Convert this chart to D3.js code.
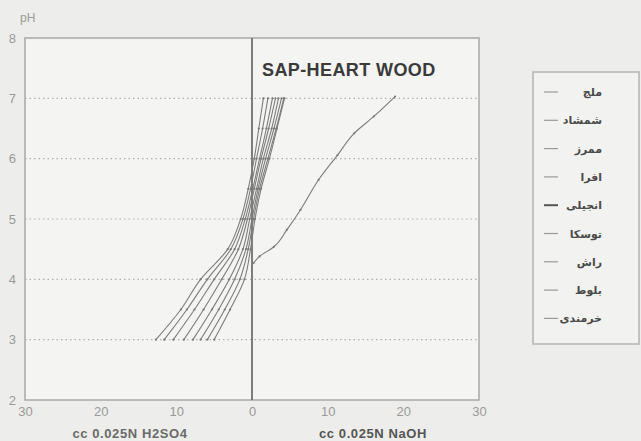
<!DOCTYPE html>
<html>
<head>
<meta charset="utf-8">
<script src="https://cdn.jsdelivr.net/npm/d3@7"></script>
<style>
  body { margin: 0; background: #ededeb; }
  svg { display: block; font-family: "Liberation Sans", Arial, sans-serif; }
</style>
</head>
<body>
<svg width="641" height="441"></svg>
<script>
(function () {
    'use strict';

    // species names (legend order)
    const species = ["ملج", "شمشاد", "ممرز", "افرا", "انجیلی", "توسکا", "راش", "بلوط", "خرمندی"];

    // pH levels read for the bundle of curves
    const phLevels = [3, 3.5, 4, 4.5, 5, 5.5, 6, 6.5, 7];

    // cc added (negative = H2SO4, positive = NaOH) at each pH level
    const mlj      = [-12.7, -9.4, -6.8, -3.2, -1.5, -0.5, 0.3, 0.9, 1.5];
    const shemshad = [-11.6, -8.6, -5.9, -2.8, -1.2, -0.2, 0.6, 1.4, 2.1];
    const mamraz   = [-10.4, -7.6, -5.0, -2.3, -0.9, 0.1, 1.0, 1.9, 2.7];
    const afra     = [-9.0, -6.4, -4.0, -1.8, -0.6, 0.3, 1.2, 2.2, 3.1];
    const anjili   = [-7.8, -5.3, -3.0, -1.2, -0.3, 0.6, 1.5, 2.6, 3.5];
    const tuska    = [-6.8, -4.4, -2.3, -0.8, 0.0, 0.8, 1.8, 2.9, 3.9];
    const rash     = [-5.9, -3.6, -1.6, -0.5, 0.2, 1.0, 2.1, 3.2, 4.2];
    const balut    = [-5.0, -2.9, -1.0, -0.2, 0.4, 1.2, 2.3, 3.3, 4.3];

    // persimmon curve, NaOH side only
    const khormandiMl = [0.2, 1.0, 2.9, 4.6, 6.4, 8.8, 11.3, 13.5, 16.1, 18.9];
    const khormandiPh = [4.27, 4.38, 4.54, 4.82, 5.15, 5.65, 6.06, 6.42, 6.7, 7.03];

    const xTicks = [-30, -20, -10, 0, 10, 20, 30];
    const yTicks = [2, 3, 4, 5, 6, 7, 8];
    const gridTicks = [3, 4, 5, 6, 7];

    const bundle = [mlj, shemshad, mamraz, afra, anjili, tuska, rash, balut];
    const series = bundle.map(function (xs, i) {
        return { name: species[i], points: xs.map(function (v, j) { return [v, phLevels[j]]; }) };
    });
    series.push({ name: species[8], points: khormandiMl.map(function (v, j) { return [v, khormandiPh[j]]; }) });

    const svg = d3.select("svg");

    const x = d3.scaleLinear().domain([-30, 30]).range([25, 479]);
    const y = d3.scaleLinear().domain([2, 8]).range([400, 38]);

    // plot background + frame
    svg.append("rect")
        .attr("x", x(-30)).attr("y", y(8))
        .attr("width", x(30) - x(-30)).attr("height", y(2) - y(8))
        .attr("fill", "#f4f4f2")
        .attr("stroke", "#a8a8a6").attr("stroke-width", 1.5);

    // dotted horizontal grid
    svg.append("g").selectAll("line")
        .data(gridTicks)
        .join("line")
        .attr("x1", x(-30)).attr("x2", x(30))
        .attr("y1", d => y(d)).attr("y2", d => y(d))
        .attr("stroke", "#b0b0ae")
        .attr("stroke-width", 1.2)
        .attr("stroke-dasharray", "1.5,3");

    // axes
    const yAxis = svg.append("g")
        .attr("transform", `translate(${x(-30)},0)`)
        .call(d3.axisLeft(y).tickValues(yTicks).tickSize(0).tickPadding(9)
            .tickFormat(d => d));
    const xAxis = svg.append("g")
        .attr("transform", `translate(0,${y(2)})`)
        .call(d3.axisBottom(x).tickValues(xTicks).tickSize(0).tickPadding(7)
            .tickFormat(d => Math.abs(d)));
    [xAxis, yAxis].forEach(function (g) {
        g.select(".domain").remove();
        g.selectAll("text").attr("fill", "#9a9a98").attr("font-size", 13);
    });

    // zero line
    svg.append("line")
        .attr("x1", x(0)).attr("x2", x(0))
        .attr("y1", y(8)).attr("y2", y(2))
        .attr("stroke", "#707070").attr("stroke-width", 1.8);

    // curves
    const line = d3.line().x(d => x(d[0])).y(d => y(d[1])).curve(d3.curveMonotoneY);
    const curves = svg.append("g");
    series.forEach(function (s) {
        curves.append("path")
            .datum(s.points)
            .attr("d", line)
            .attr("fill", "none")
            .attr("stroke", "#7c7c7a")
            .attr("stroke-width", 1.1);
        curves.selectAll(null)
            .data(s.points)
            .join("circle")
            .attr("cx", d => x(d[0])).attr("cy", d => y(d[1]))
            .attr("r", 1.1)
            .attr("fill", "#7a7a78");
    });

    // texts
    svg.append("text")
        .attr("x", 20).attr("y", 22)
        .attr("fill", "#9a9a98").attr("font-size", 12)
        .text("pH");
    svg.append("text")
        .attr("x", 262).attr("y", 76)
        .attr("fill", "#3a3a3a").attr("font-size", 18).attr("font-weight", "bold")
        .attr("letter-spacing", 0.4)
        .text("SAP-HEART WOOD");
    svg.append("text")
        .attr("x", 130).attr("y", 438).attr("text-anchor", "middle")
        .attr("fill", "#6a6a68").attr("font-size", 13).attr("font-weight", "bold")
        .attr("letter-spacing", 0.6)
        .text("cc 0.025N H2SO4");
    svg.append("text")
        .attr("x", 373).attr("y", 438).attr("text-anchor", "middle")
        .attr("fill", "#555").attr("font-size", 13).attr("font-weight", "bold")
        .attr("letter-spacing", 0.6)
        .text("cc 0.025N NaOH");

    // legend
    const legend = svg.append("g");
    legend.append("rect")
        .attr("x", 533).attr("y", 72).attr("width", 106).attr("height", 272)
        .attr("fill", "#f2f2f0")
        .attr("stroke", "#b4b4b2").attr("stroke-width", 1.5);
    const items = legend.selectAll("g.item")
        .data(species)
        .join("g")
        .attr("class", "item")
        .attr("transform", (d, i) => `translate(0,${92 + i * 28.3})`);
    items.append("line")
        .attr("x1", 544).attr("x2", 558)
        .attr("stroke", (d, i) => i === 4 ? "#555" : "#9a9a98")
        .attr("stroke-width", (d, i) => i === 4 ? 2 : 1.2);
    items.append("text")
        .attr("x", 602).attr("y", 4).attr("text-anchor", "end")
        .attr("font-family", "'Noto Sans', 'DejaVu Sans', sans-serif")
        .attr("font-size", 11).attr("font-weight", "bold")
        .attr("fill", "#4a4a4a")
        .text(d => d);
})();
</script>
</body>
</html>
